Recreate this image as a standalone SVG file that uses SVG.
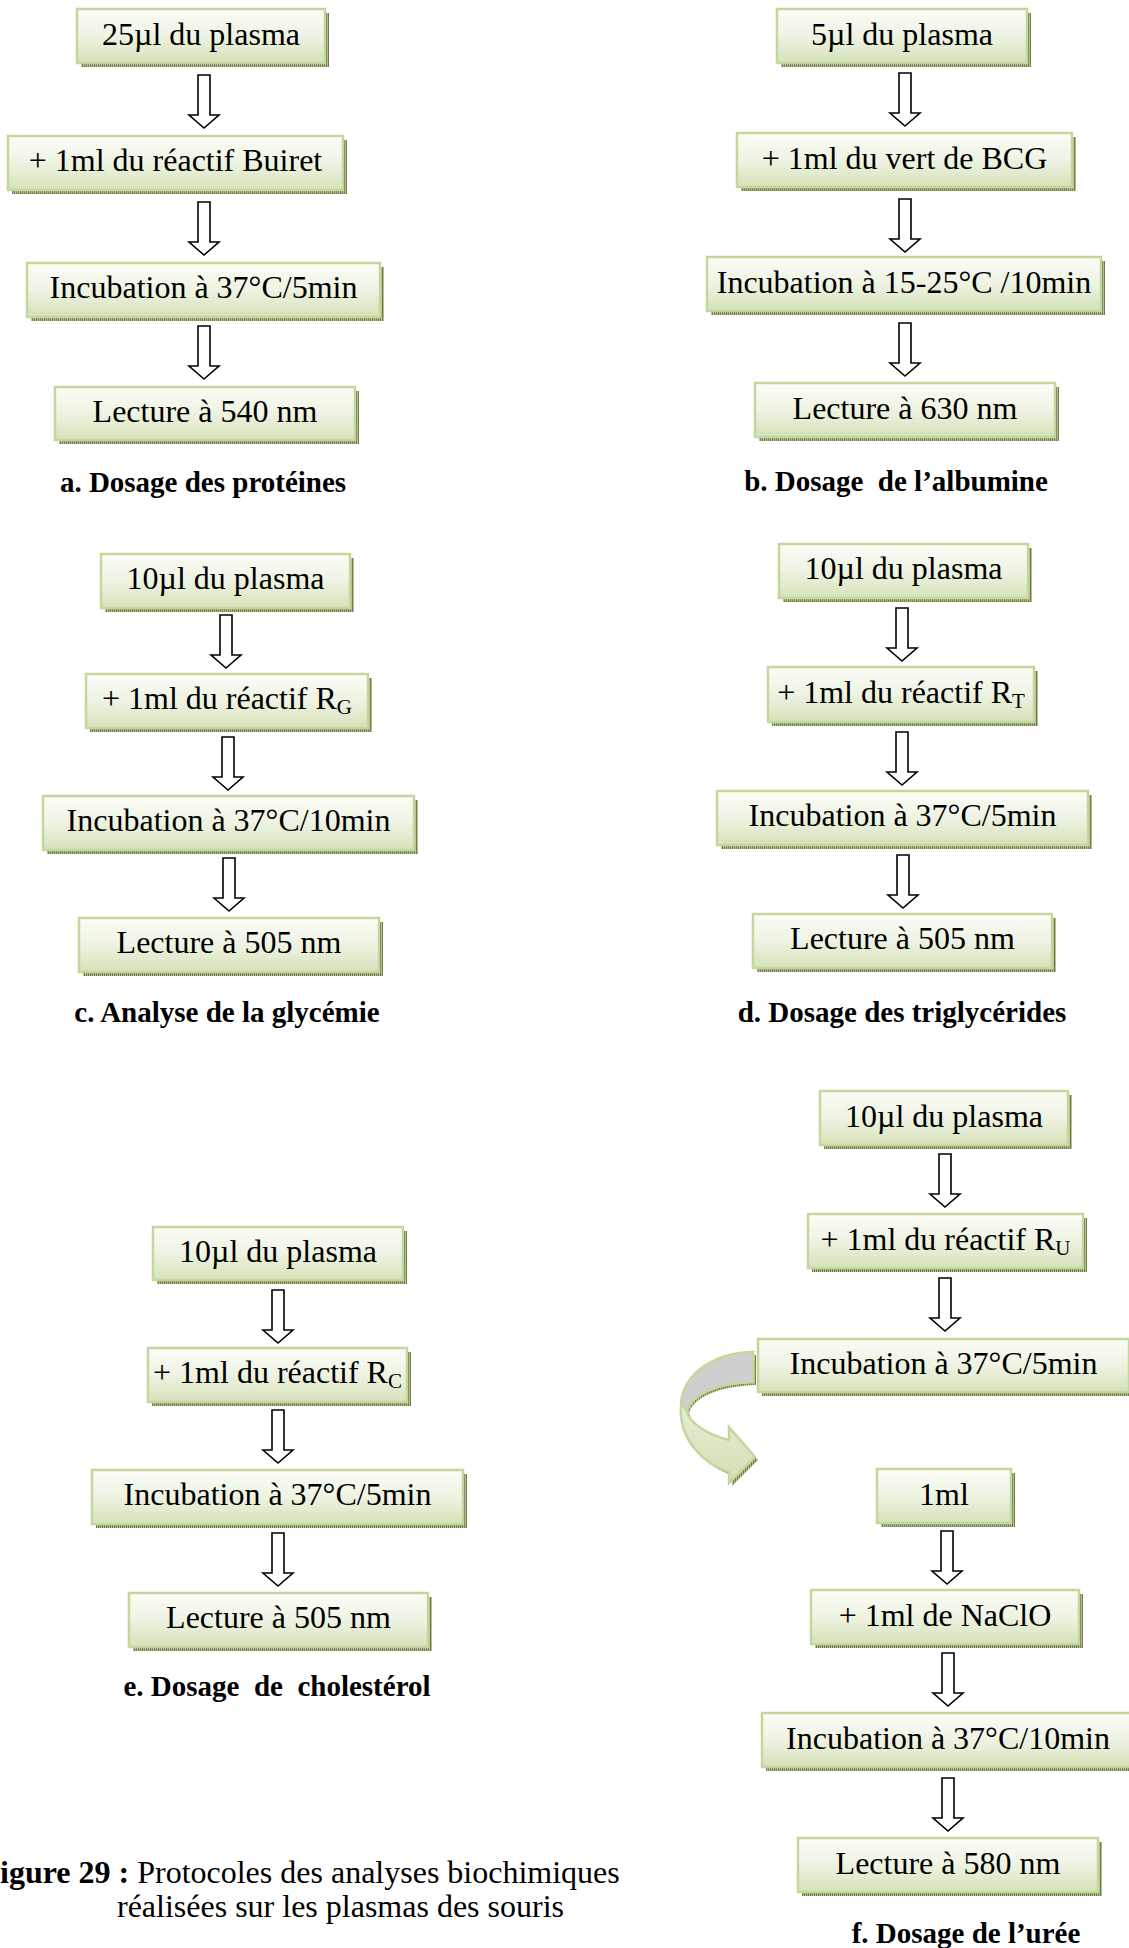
<svg xmlns="http://www.w3.org/2000/svg" xmlns:xlink="http://www.w3.org/1999/xlink" width="1129" height="1948" viewBox="0 0 1129 1948">
<style>
.box{fill:url(#boxgrad);stroke:#c4d79c;stroke-width:2.5}
.shadow{fill:url(#hatch)}
.t{font-family:"Liberation Serif","Times New Roman",serif;font-size:32px;fill:#000;text-anchor:middle}
.cap{font-family:"Liberation Serif","Times New Roman",serif;font-size:29px;font-weight:bold;fill:#000;text-anchor:middle;white-space:pre}
.fig{font-family:"Liberation Serif","Times New Roman",serif;font-size:32px;fill:#000}
.arrow{fill:#fff;stroke:#000;stroke-width:1.6;stroke-linejoin:miter}
.sub{font-size:21px}
</style>
<defs>
<linearGradient id="boxgrad" x1="0" y1="0" x2="0" y2="1">
<stop offset="0" stop-color="#fcfdf8"/>
<stop offset="0.5" stop-color="#eef3e2"/>
<stop offset="1" stop-color="#d5e2b9"/>
</linearGradient>
<linearGradient id="curvegrad" x1="0" y1="0" x2="0" y2="1">
<stop offset="0" stop-color="#f2f6ea"/>
<stop offset="1" stop-color="#d3e0b5"/>
</linearGradient>
<pattern id="hatch" width="2" height="2" patternUnits="userSpaceOnUse">
<rect width="2" height="2" fill="#b3bd92"/>
<rect width="1" height="2" fill="#6f7e4c"/>
</pattern>
<path id="barrow" class="arrow" d="M-6,0 H6 V40 H15 L0,53 L-15,40 H-6 Z"/>
</defs>
<rect width="1129" height="1948" fill="#fff"/>

<g id="connectors">
<use xlink:href="#barrow" transform="translate(204,75)"/>
<use xlink:href="#barrow" transform="translate(204,202)"/>
<use xlink:href="#barrow" transform="translate(204,326)"/>

<use xlink:href="#barrow" transform="translate(905,73)"/>
<use xlink:href="#barrow" transform="translate(905,199)"/>
<use xlink:href="#barrow" transform="translate(905,323)"/>

<use xlink:href="#barrow" transform="translate(226,615)"/>
<use xlink:href="#barrow" transform="translate(228,737)"/>
<use xlink:href="#barrow" transform="translate(229,858)"/>

<use xlink:href="#barrow" transform="translate(902,608)"/>
<use xlink:href="#barrow" transform="translate(902,732)"/>
<use xlink:href="#barrow" transform="translate(903,855)"/>

<use xlink:href="#barrow" transform="translate(278,1290)"/>
<use xlink:href="#barrow" transform="translate(278,1410)"/>
<use xlink:href="#barrow" transform="translate(278,1533)"/>

<use xlink:href="#barrow" transform="translate(945,1154)"/>
<use xlink:href="#barrow" transform="translate(945,1278)"/>
<use xlink:href="#barrow" transform="translate(947,1531)"/>
<use xlink:href="#barrow" transform="translate(948,1653)"/>
<use xlink:href="#barrow" transform="translate(948,1778)"/>

<g id="curved-arrow">
<path class="shadow" transform="translate(3,3)" d="M753,1352 C715,1353 685,1372 681,1405 C678,1440 705,1465 729,1472 L729,1483 L755,1457 L729,1427 L729,1440 C710,1435 690,1425 686,1410 C690,1395 715,1383 753,1382 Z"/>
<path d="M753,1352 C715,1353 685,1372 681,1405 C678,1440 705,1465 729,1472 L729,1483 L755,1457 L729,1427 L729,1440 C710,1435 690,1425 686,1410 C690,1395 715,1383 753,1382 Z" fill="url(#curvegrad)" stroke="#c4d79c" stroke-width="2.5"/>
<path d="M753,1352 C715,1353 685,1372 681,1402 L687,1411 C692,1395 715,1383 753,1382 Z" fill="#cfcfcf" stroke="#c4d79c" stroke-width="2.5"/>
</g>
</g>

<!-- a -->
<g id="a1"><rect class="shadow" x="81" y="13" width="248" height="54"/><rect class="box" x="77" y="9" width="248" height="54"/><text class="t" x="201" y="45">25µl du plasma</text></g>
<g id="a2"><rect class="shadow" x="12" y="140" width="335" height="54"/><rect class="box" x="8" y="136" width="335" height="54"/><text class="t" x="175.5" y="171">+ 1ml du réactif Buiret</text></g>
<g id="a3"><rect class="shadow" x="31" y="267" width="353" height="54"/><rect class="box" x="27" y="263" width="353" height="54"/><text class="t" x="203.5" y="298">Incubation à 37°C/5min</text></g>
<g id="a4"><rect class="shadow" x="59" y="391" width="300" height="53"/><rect class="box" x="55" y="387" width="300" height="53"/><text class="t" x="205" y="422">Lecture à 540 nm</text></g>
<g id="cap-a"><text class="cap" x="203" y="492">a. Dosage des protéines</text></g>

<!-- b -->
<g id="b1"><rect class="shadow" x="781" y="13" width="250" height="54"/><rect class="box" x="777" y="9" width="250" height="54"/><text class="t" x="902" y="45">5µl du plasma</text></g>
<g id="b2"><rect class="shadow" x="741" y="137" width="335" height="54"/><rect class="box" x="737" y="133" width="335" height="54"/><text class="t" x="904.5" y="169">+ 1ml du vert de BCG</text></g>
<g id="b3"><rect class="shadow" x="711" y="261" width="394" height="54"/><rect class="box" x="707" y="257" width="394" height="54"/><text class="t" x="904" y="293">Incubation à 15-25°C /10min</text></g>
<g id="b4"><rect class="shadow" x="759" y="387" width="300" height="54"/><rect class="box" x="755" y="383" width="300" height="54"/><text class="t" x="905" y="419">Lecture à 630 nm</text></g>
<g id="cap-b"><text class="cap" x="896" y="491">b. Dosage  de l’albumine</text></g>

<!-- c -->
<g id="c1"><rect class="shadow" x="105" y="558" width="249" height="54"/><rect class="box" x="101" y="554" width="249" height="54"/><text class="t" x="225.5" y="589">10µl du plasma</text></g>
<g id="c2"><rect class="shadow" x="90" y="678" width="282" height="54"/><rect class="box" x="86" y="674" width="282" height="54"/><text class="t" x="227" y="709">+ 1ml du réactif R<tspan class="sub" dy="5">G</tspan></text></g>
<g id="c3"><rect class="shadow" x="47" y="800" width="371" height="54"/><rect class="box" x="43" y="796" width="371" height="54"/><text class="t" x="228.5" y="831">Incubation à 37°C/10min</text></g>
<g id="c4"><rect class="shadow" x="83" y="922" width="300" height="54"/><rect class="box" x="79" y="918" width="300" height="54"/><text class="t" x="229" y="953">Lecture à 505 nm</text></g>
<g id="cap-c"><text class="cap" x="227" y="1022">c. Analyse de la glycémie</text></g>

<!-- d -->
<g id="d1"><rect class="shadow" x="783" y="548" width="249" height="54"/><rect class="box" x="779" y="544" width="249" height="54"/><text class="t" x="903.5" y="579">10µl du plasma</text></g>
<g id="d2"><rect class="shadow" x="772" y="671" width="266" height="55"/><rect class="box" x="768" y="667" width="266" height="55"/><text class="t" x="901" y="703">+ 1ml du réactif R<tspan class="sub" dy="5">T</tspan></text></g>
<g id="d3"><rect class="shadow" x="721" y="795" width="371" height="54"/><rect class="box" x="717" y="791" width="371" height="54"/><text class="t" x="902.5" y="826">Incubation à 37°C/5min</text></g>
<g id="d4"><rect class="shadow" x="757" y="918" width="299" height="54"/><rect class="box" x="753" y="914" width="299" height="54"/><text class="t" x="902.5" y="949">Lecture à 505 nm</text></g>
<g id="cap-d"><text class="cap" x="902" y="1022">d. Dosage des triglycérides</text></g>

<!-- e -->
<g id="e1"><rect class="shadow" x="157" y="1231" width="250" height="53"/><rect class="box" x="153" y="1227" width="250" height="53"/><text class="t" x="278" y="1262">10µl du plasma</text></g>
<g id="e2"><rect class="shadow" x="152" y="1352" width="259" height="54"/><rect class="box" x="148" y="1348" width="259" height="54"/><text class="t" x="277.5" y="1383">+ 1ml du réactif R<tspan class="sub" dy="5">C</tspan></text></g>
<g id="e3"><rect class="shadow" x="96" y="1474" width="371" height="54"/><rect class="box" x="92" y="1470" width="371" height="54"/><text class="t" x="277.5" y="1505">Incubation à 37°C/5min</text></g>
<g id="e4"><rect class="shadow" x="133" y="1597" width="299" height="54"/><rect class="box" x="129" y="1593" width="299" height="54"/><text class="t" x="278.5" y="1628">Lecture à 505 nm</text></g>
<g id="cap-e"><text class="cap" x="277" y="1696">e. Dosage  de  cholestérol</text></g>

<!-- f -->
<g id="f1"><rect class="shadow" x="824" y="1095" width="248" height="54"/><rect class="box" x="820" y="1091" width="248" height="54"/><text class="t" x="944" y="1127">10µl du plasma</text></g>
<g id="f2"><rect class="shadow" x="812" y="1218" width="275" height="54"/><rect class="box" x="808" y="1214" width="275" height="54"/><text class="t" x="945.5" y="1250">+ 1ml du réactif R<tspan class="sub" dy="5">U</tspan></text></g>
<g id="f3"><rect class="shadow" x="762" y="1343" width="371" height="53"/><rect class="box" x="758" y="1339" width="371" height="53"/><text class="t" x="943.5" y="1374">Incubation à 37°C/5min</text></g>
<g id="f4"><rect class="shadow" x="881" y="1473" width="134" height="54"/><rect class="box" x="877" y="1469" width="134" height="54"/><text class="t" x="944" y="1505">1ml</text></g>
<g id="f5"><rect class="shadow" x="815" y="1594" width="268" height="54"/><rect class="box" x="811" y="1590" width="268" height="54"/><text class="t" x="945" y="1626">+ 1ml de NaClO</text></g>
<g id="f6"><rect class="shadow" x="766" y="1717" width="372" height="54"/><rect class="box" x="762" y="1713" width="372" height="54"/><text class="t" x="948" y="1749">Incubation à 37°C/10min</text></g>
<g id="f7"><rect class="shadow" x="802" y="1842" width="300" height="54"/><rect class="box" x="798" y="1838" width="300" height="54"/><text class="t" x="948" y="1874">Lecture à 580 nm</text></g>
<g id="cap-f"><text class="cap" x="966" y="1943">f. Dosage de l’urée</text></g>

<g id="figure-caption">
<text class="fig" x="0" y="1883"><tspan font-weight="bold">igure 29 :</tspan> Protocoles des analyses biochimiques</text>
<text class="fig" x="117" y="1917">réalisées sur les plasmas des souris</text>
</g>
</svg>
